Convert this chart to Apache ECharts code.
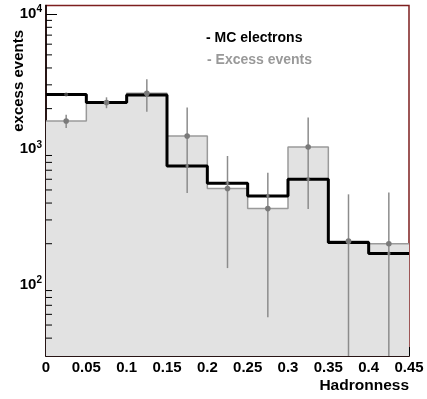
<!DOCTYPE html>
<html>
<head>
<meta charset="utf-8">
<script src="https://cdn.jsdelivr.net/npm/echarts@6/dist/echarts.min.js"></script>
<style>
  html, body { margin: 0; padding: 0; background: #fff; }
  #main { width: 427px; height: 399px; }
</style>
</head>
<body>
<div id="main"></div>
<script>
// bin edges (Hadronness) and per-bin contents
const binEdges = [0, 0.05, 0.1, 0.15, 0.2, 0.25, 0.3, 0.35, 0.4, 0.45];
const mcElectrons = [2550, 2220, 2520, 752, 560, 451, 600, 204, 169];
const excessEvents = [1620, 2220, 2600, 1255, 512, 364, 1040, 209, 200];
const excessErrors = [185, 205, 700, 780, 380, 307, 678, 255, 278];
const yMinorTicks = [40, 50, 60, 70, 80, 90, 200, 300, 400, 500, 600, 700, 800, 900,
  2000, 3000, 4000, 5000, 6000, 7000, 8000, 9000];

const Y_MIN = 29.5;
const Y_MAX = 11600;
const FONT = '"Liberation Sans", Arial, sans-serif';

// step line points: value holds from edge i to edge i+1
const stepPoints = (vals) => {
  const pts = vals.map((v, i) => [binEdges[i], v]);
  pts.push([binEdges[binEdges.length - 1], vals[vals.length - 1]]);
  return pts;
};
const centers = binEdges.slice(0, -1).map((e, i) => (e + binEdges[i + 1]) / 2);

const chart = echarts.init(document.getElementById('main'));

const option = {
  backgroundColor: '#ffffff',
  animation: false,
  grid: {
    left: 46,
    right: 18,
    top: 5.5,
    bottom: 43,
    show: true,
    borderColor: '#7d1f1f',
    borderWidth: 1.5,
  },
  xAxis: {
    type: 'value',
    min: 0,
    max: 0.45,
    interval: 0.05,
    axisLine: { lineStyle: { color: '#000', width: 1.5 } },
    axisTick: { inside: true, length: 9, lineStyle: { color: '#000', width: 1 } },
    minorTick: { show: true, splitNumber: 5, length: 5, lineStyle: { color: '#000', width: 1 } },
    splitLine: { show: false },
    axisLabel: {
      margin: 4,
      color: '#000',
      fontFamily: FONT,
      fontWeight: 'bold',
      fontSize: 15,
      formatter: (v) => String(Math.round(v * 100) / 100),
    },
  },
  yAxis: {
    type: 'log',
    min: Y_MIN,
    max: Y_MAX,
    axisLine: { show: true, lineStyle: { color: '#000', width: 1.5 } },
    axisTick: { inside: true, length: 11, lineStyle: { color: '#000', width: 1 } },
    splitLine: { show: false },
    axisLabel: {
      showMinLabel: false,
      showMaxLabel: false,
      margin: 4,
      color: '#000',
      fontFamily: FONT,
      fontWeight: 'bold',
      fontSize: 15,
      formatter: (v) => '10{sup|' + Math.round(Math.log10(v)) + '}',
      rich: {
        sup: {
          fontFamily: FONT,
          fontWeight: 'bold',
          fontSize: 10,
          color: '#000',
          verticalAlign: 'top',
          padding: [0, 0, 9, 0],
        },
      },
    },
  },
  series: [
    {
      name: 'Excess events',
      type: 'line',
      step: 'end',
      data: stepPoints(excessEvents),
      symbol: 'none',
      lineStyle: { color: '#9a9a9a', width: 1.5 },
      areaStyle: { color: '#e2e2e2', opacity: 1, origin: 'start' },
      z: 2,
    },
    {
      name: 'MC electrons',
      type: 'line',
      step: 'end',
      data: stepPoints(mcElectrons),
      symbol: 'none',
      lineStyle: { color: '#000', width: 3 },
      z: 3,
    },
    {
      name: 'MC markers',
      type: 'scatter',
      data: centers.map((c, i) => [c, mcElectrons[i]]),
      symbol: 'circle',
      symbolSize: 4,
      itemStyle: { color: '#555' },
      z: 4,
    },
    {
      name: 'Excess errors',
      type: 'custom',
      data: centers.map((c, i) => [c, excessEvents[i], excessErrors[i]]),
      renderItem: (params, api) => {
        const x = api.value(0);
        const v = api.value(1);
        const err = api.value(2);
        const lo = Math.max(v - err, Y_MIN);
        const hi = Math.min(v + err, Y_MAX);
        const pLo = api.coord([x, lo]);
        const pHi = api.coord([x, hi]);
        const p = api.coord([x, v]);
        return {
          type: 'group',
          children: [
            {
              type: 'line',
              shape: { x1: pLo[0], y1: pLo[1], x2: pHi[0], y2: pHi[1] },
              style: { stroke: '#8c8c8c', lineWidth: 1.5 },
            },
            {
              type: 'circle',
              shape: { cx: p[0], cy: p[1], r: 2.8 },
              style: { fill: '#7a7a7a' },
            },
          ],
        };
      },
      z: 5,
    },
    {
      name: 'y minor ticks',
      type: 'custom',
      data: yMinorTicks.map((v) => [0, v]),
      renderItem: (params, api) => {
        const p = api.coord([api.value(0), api.value(1)]);
        return {
          type: 'line',
          shape: { x1: p[0], y1: p[1], x2: p[0] + 6, y2: p[1] },
          style: { stroke: '#000', lineWidth: 1 },
        };
      },
      silent: true,
      z: 6,
    },
  ],
  graphic: [
    {
      type: 'text',
      x: 19,
      y: 30,
      rotation: Math.PI / 2,
      style: {
        text: 'excess events',
        fill: '#000',
        font: 'bold 15px ' + FONT,
        align: 'right',
        verticalAlign: 'middle',
      },
    },
    {
      type: 'text',
      x: 409,
      y: 386,
      style: {
        text: 'Hadronness',
        fill: '#000',
        font: 'bold 15.5px ' + FONT,
        align: 'right',
        verticalAlign: 'middle',
      },
    },
    {
      type: 'text',
      x: 206,
      y: 38,
      style: {
        text: '- MC electrons',
        fill: '#000',
        font: 'bold 14px ' + FONT,
        align: 'left',
        verticalAlign: 'middle',
      },
    },
    {
      type: 'text',
      x: 207,
      y: 60,
      style: {
        text: '- Excess events',
        fill: '#999',
        font: 'bold 14px ' + FONT,
        align: 'left',
        verticalAlign: 'middle',
      },
    },
  ],
};

chart.setOption(option);
</script>
</body>
</html>
